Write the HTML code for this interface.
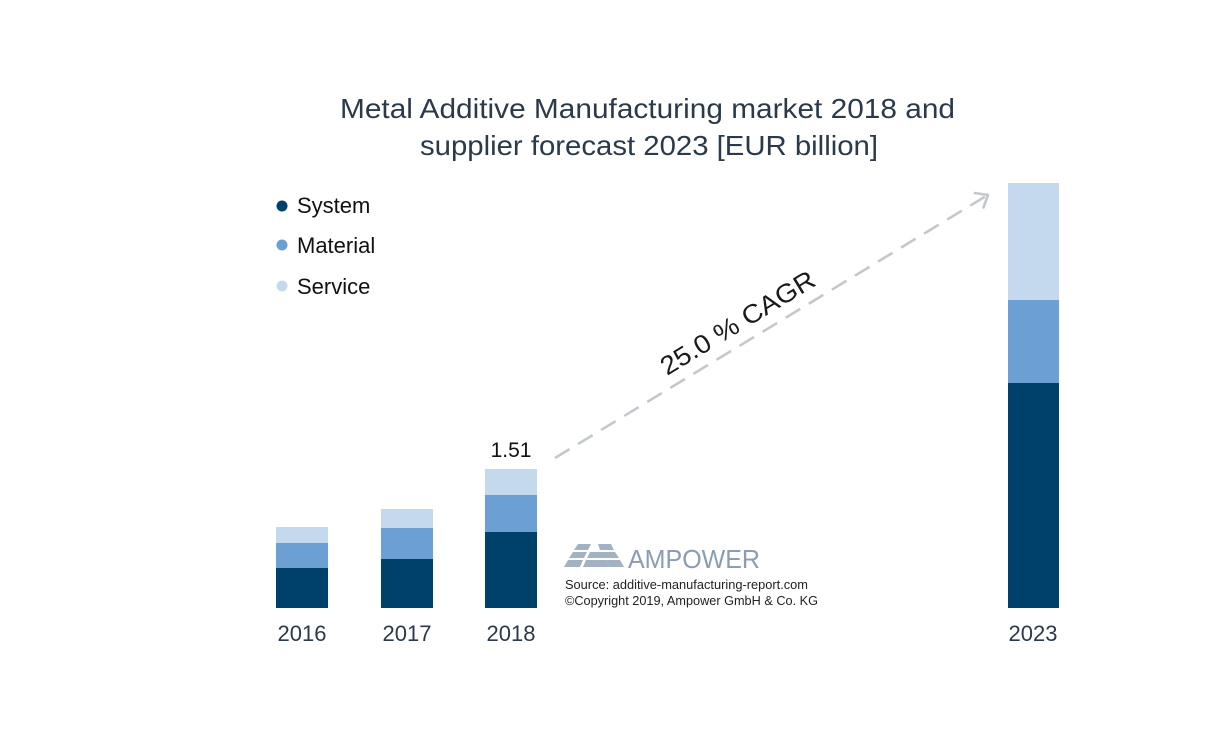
<!DOCTYPE html>
<html>
<head>
<meta charset="utf-8">
<style>
  html, body { margin:0; padding:0; background:#ffffff; }
  body { width:1216px; height:739px; overflow:hidden; }
  svg { display:block; }
  text { font-family: "Liberation Sans", "DejaVu Sans", sans-serif; }
</style>
</head>
<body>
<svg width="1216" height="739" viewBox="0 0 1216 739" xmlns="http://www.w3.org/2000/svg">
  <rect width="1216" height="739" fill="#ffffff"/>

  <!-- Title -->
  <text x="340" y="118" font-size="28" fill="#2b3a4a" textLength="615" lengthAdjust="spacingAndGlyphs">Metal Additive Manufacturing market 2018 and</text>
  <text x="420" y="155" font-size="28" fill="#2b3a4a" textLength="458" lengthAdjust="spacingAndGlyphs">supplier forecast 2023 [EUR billion]</text>

  <!-- Legend -->
  <circle cx="282" cy="206" r="5.5" fill="#00416b"/>
  <text x="297" y="213" font-size="22" fill="#111111">System</text>
  <circle cx="282" cy="245" r="5.5" fill="#6c9fd4"/>
  <text x="297" y="253" font-size="22" fill="#111111">Material</text>
  <circle cx="282" cy="286" r="5.5" fill="#c5d9ee"/>
  <text x="297" y="294" font-size="22" fill="#111111">Service</text>

  <!-- 2016 -->
  <rect x="276" y="527" width="52" height="16" fill="#c5d9ee"/>
  <rect x="276" y="543" width="52" height="25" fill="#6c9fd4"/>
  <rect x="276" y="568" width="52" height="40" fill="#00416b"/>
  <!-- 2017 -->
  <rect x="381" y="509" width="52" height="19" fill="#c5d9ee"/>
  <rect x="381" y="528" width="52" height="31" fill="#6c9fd4"/>
  <rect x="381" y="559" width="52" height="49" fill="#00416b"/>
  <!-- 2018 -->
  <rect x="485" y="469" width="52" height="26" fill="#c5d9ee"/>
  <rect x="485" y="495" width="52" height="37" fill="#6c9fd4"/>
  <rect x="485" y="532" width="52" height="76" fill="#00416b"/>
  <!-- 2023 -->
  <rect x="1008" y="183" width="51" height="117" fill="#c5d9ee"/>
  <rect x="1008" y="300" width="51" height="83" fill="#6c9fd4"/>
  <rect x="1008" y="383" width="51" height="225" fill="#00416b"/>

  <!-- Value label -->
  <text x="511" y="457" font-size="21" fill="#111111" text-anchor="middle">1.51</text>

  <!-- Year labels -->
  <text x="302" y="641" font-size="22" fill="#2b3a4a" text-anchor="middle">2016</text>
  <text x="407" y="641" font-size="22" fill="#2b3a4a" text-anchor="middle">2017</text>
  <text x="511" y="641" font-size="22" fill="#2b3a4a" text-anchor="middle">2018</text>
  <text x="1033" y="641" font-size="22" fill="#2b3a4a" text-anchor="middle">2023</text>

  <!-- CAGR arrow -->
  <line x1="555" y1="458" x2="986" y2="196" stroke="#c3c8ce" stroke-width="2.6" stroke-dasharray="17 10"/>
  <polyline points="975,193 988,195 983.5,207.5" fill="none" stroke="#c3c8ce" stroke-width="2.6" stroke-linecap="round" stroke-linejoin="round"/>
  <text x="0" y="0" font-size="26" fill="#1a1a1a" textLength="176" lengthAdjust="spacingAndGlyphs" transform="translate(667,376) rotate(-31.3)">25.0 % CAGR</text>

  <!-- AMPOWER logo -->
  <g fill="#a3b2c3">
    <polygon points="578,544 591,544 588,550 574,550"/>
    <polygon points="598,544 611,544 614,550 600,550"/>
    <polygon points="573,552 587,552 584,558 569,558"/>
    <polygon points="590,552 603,552 606,558 587,558"/>
    <polygon points="601,552 615,552 619,558 605,558"/>
    <polygon points="568,560 583,560 580,567 564,567"/>
    <polygon points="586,560 606,560 609,567 583,567"/>
    <polygon points="606,560 620,560 624,567 609,567"/>
  </g>
  <text x="628" y="568" font-size="26" fill="#8a9db3" textLength="132" lengthAdjust="spacingAndGlyphs">AMPOWER</text>
  <text x="565" y="589" font-size="12.5" fill="#222222" textLength="243" lengthAdjust="spacingAndGlyphs">Source: additive-manufacturing-report.com</text>
  <text x="565" y="605" font-size="12.5" fill="#222222" textLength="253" lengthAdjust="spacingAndGlyphs">©Copyright 2019, Ampower GmbH &amp; Co. KG</text>
</svg>
</body>
</html>
